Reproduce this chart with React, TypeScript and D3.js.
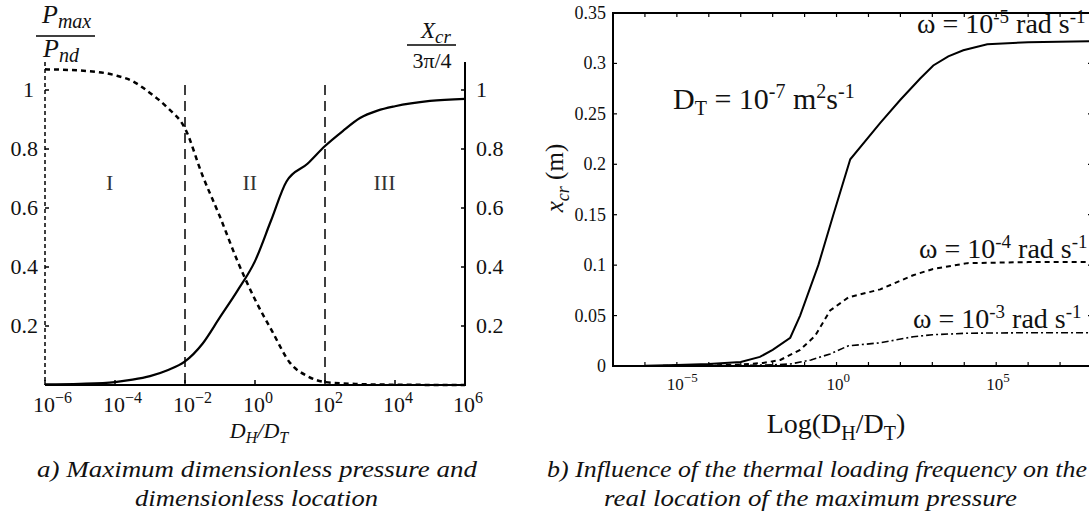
import React from "react";
import * as d3 from "d3";

// ---------- Panel a data ----------
const aXTicks = [-6, -4, -2, 0, 2, 4, 6];
const aYTicks = [0.2, 0.4, 0.6, 0.8, 1];
const aRegionBounds = [-2, 2];
const aRegionLabels = ["I", "II", "III"];
const aRegionLabelPos = [-4.15, -0.15, 3.7];
const pressureLog = [-6, -5, -4, -3.5, -3, -2.5, -2, -1.5, -1, -0.5, 0, 0.5, 1, 1.5, 2, 3, 4, 6];
const pressureVal = [1.07, 1.066, 1.05, 1.03, 0.99, 0.94, 0.87, 0.71, 0.57, 0.42, 0.29, 0.18, 0.075, 0.03, 0.01, 0.003, 0.001, 0];
const locationLog = [-6, -5, -4, -3.5, -3, -2.5, -2, -1.5, -1, -0.5, 0, 0.45, 0.9, 1.5, 2, 2.5, 3, 3.5, 4, 5, 6];
const locationVal = [0.002, 0.004, 0.01, 0.018, 0.03, 0.05, 0.08, 0.14, 0.23, 0.32, 0.42, 0.555, 0.69, 0.75, 0.81, 0.86, 0.905, 0.93, 0.945, 0.963, 0.97];

// ---------- Panel b data ----------
const bXTickDecades = [-7, -6, -5, -4, -3, -2, -1, 0, 1, 2, 3, 4, 5, 6, 7, 8];
const bXLabelDecades = [-5, 0, 5];
const bYTicks = [0, 0.05, 0.1, 0.15, 0.2, 0.25, 0.3, 0.35];
const bYTickLabels = ["0", "0.05", "0.1", "0.15", "0.2", "0.25", "0.3", "0.35"];
const w5Log = [-6, -5, -4, -3, -2.4, -2, -1.45, -1.14, -0.57, -0.1, 0.43, 1.37, 2.0, 2.62, 3.03, 3.5, 3.97, 4.72, 6, 8];
const w5Val = [0.0003, 0.001, 0.002, 0.004, 0.009, 0.016, 0.028, 0.05, 0.1, 0.15, 0.205, 0.241, 0.264, 0.285, 0.298, 0.307, 0.313, 0.319, 0.321, 0.322];
const w4Log = [-6, -4, -3, -2.3, -1.76, -1.14, -0.67, -0.2, 0.37, 1.37, 2.4, 3, 4.1, 6, 8];
const w4Val = [0, 0.0005, 0.0015, 0.003, 0.006, 0.016, 0.03, 0.055, 0.068, 0.076, 0.09, 0.096, 0.102, 0.103, 0.103];
const w3Log = [-6, -3, -2, -1.45, -0.8, -0.2, 0.37, 1.37, 2.4, 3, 4.1, 6, 8];
const w3Val = [0, 0.0005, 0.0012, 0.002, 0.006, 0.012, 0.02, 0.023, 0.029, 0.031, 0.0325, 0.033, 0.033];
const omegaExps = ["-5", "-4", "-3"];

const SERIF = "'Liberation Serif', 'Times New Roman', serif";

export default function App() {
  // panel a scales
  const ax = d3.scaleLog().domain([1e-6, 1e6]).range([45, 465]);
  const ay = d3.scaleLinear().domain([0, 1]).range([385, 90]);
  const aLine = d3
    .line<[number, number]>()
    .x((d) => ax(Math.pow(10, d[0])))
    .y((d) => ay(d[1]))
    .curve(d3.curveMonotoneX);
  const pData = pressureLog.map((l, i) => [l, pressureVal[i]] as [number, number]);
  const lData = locationLog.map((l, i) => [l, locationVal[i]] as [number, number]);

  // panel b scales
  const bx = d3.scaleLog().domain([1e-7, 1e8]).range([613, 1092]);
  const by = d3.scaleLinear().domain([0, 0.35]).range([366, 13]);
  const bLine = d3
    .line<[number, number]>()
    .x((d) => bx(Math.pow(10, d[0])))
    .y((d) => by(d[1]))
    .curve(d3.curveLinear);
  const s5 = w5Log.map((l, i) => [l, w5Val[i]] as [number, number]);
  const s4 = w4Log.map((l, i) => [l, w4Val[i]] as [number, number]);
  const s3 = w3Log.map((l, i) => [l, w3Val[i]] as [number, number]);

  const bLeft = bx.range()[0];
  const bRight = bx.range()[1];
  const bTop = by.range()[1];
  const bBottom = by.range()[0];

  const omegaY = [33, 258, 328];
  const omegaX = [917, 919, 913];

  return (
    <svg width={1089} height={516} style={{ position: "absolute", left: 0, top: 0, background: "#fff", fontFamily: SERIF }}>
      {/* ================= Panel a ================= */}
      <line x1={ax(1e-6)} x2={ax(1e-6)} y1={62} y2={385} stroke="#000" strokeWidth={1.5} strokeDasharray="4,3" />
      <line x1={ax(1e6)} x2={ax(1e6)} y1={62} y2={386} stroke="#000" strokeWidth={2} />
      <line x1={ax(1e-6)} x2={ax(1e6)} y1={385} y2={385} stroke="#000" strokeWidth={2} />
      {aXTicks.map((t) => (
        <g key={"axt" + t}>
          <line x1={ax(Math.pow(10, t))} x2={ax(Math.pow(10, t))} y1={385} y2={380} stroke="#000" strokeWidth={1.5} />
          <text x={ax(Math.pow(10, t)) - 12} y={412} fontSize={22} textAnchor="start" fill="#111">
            10
            <tspan dy={-9} fontSize={16}>{t < 0 ? "\u2212" + Math.abs(t) : String(t)}</tspan>
          </text>
        </g>
      ))}
      {aYTicks.map((t) => (
        <g key={"ayt" + t}>
          <line x1={ax(1e-6)} x2={ax(1e-6) + 4} y1={ay(t)} y2={ay(t)} stroke="#000" strokeWidth={1.5} />
          <text x={t === 1 ? 34 : 38} y={ay(t) + 7} fontSize={22} textAnchor="end" fill="#111">{String(t)}</text>
          <line x1={ax(1e6)} x2={ax(1e6) - 4} y1={ay(t)} y2={ay(t)} stroke="#000" strokeWidth={1.5} />
          <text x={476} y={ay(t) + 7} fontSize={22} textAnchor="start" fill="#111">{String(t)}</text>
        </g>
      ))}
      {aRegionBounds.map((b) => (
        <line key={"rb" + b} x1={ax(Math.pow(10, b))} x2={ax(Math.pow(10, b))} y1={85} y2={385} stroke="#000" strokeWidth={1.5} strokeDasharray="10,6" />
      ))}
      {aRegionLabels.map((lab, i) => (
        <text key={lab} x={ax(Math.pow(10, aRegionLabelPos[i]))} y={190} fontSize={22} textAnchor="middle" fill="#333">{lab}</text>
      ))}
      <path d={aLine(pData) || ""} fill="none" stroke="#000" strokeWidth={2.5} strokeDasharray="5,4" />
      <path d={aLine(lData) || ""} fill="none" stroke="#000" strokeWidth={2.2} />
      {/* axis titles */}
      <text x={42} y={23} fontSize={26} fontStyle="italic" fill="#111">
        P<tspan dy={5} fontSize={20}>max</tspan>
      </text>
      <line x1={36} x2={95} y1={36} y2={36} stroke="#000" strokeWidth={1.6} />
      <text x={43} y={57} fontSize={26} fontStyle="italic" fill="#111">
        P<tspan dy={5} fontSize={20}>nd</tspan>
      </text>
      <text x={421} y={38} fontSize={23} fontStyle="italic" fill="#111">
        X<tspan dy={5} fontSize={19}>cr</tspan>
      </text>
      <line x1={407} x2={456} y1={45} y2={45} stroke="#000" strokeWidth={1.4} />
      <text x={432} y={68} fontSize={22} textAnchor="middle" fill="#111">3π/4</text>
      <text x={259} y={438} fontSize={22} fontStyle="italic" textAnchor="middle" fill="#111">
        D<tspan dy={5} fontSize={16}>H</tspan>
        <tspan dy={-5}>/D</tspan>
        <tspan dy={5} fontSize={16}>T</tspan>
      </text>
      <text x={37} y={477} fontSize={24} fontStyle="italic" textLength={440} lengthAdjust="spacingAndGlyphs" fill="#111">a) Maximum dimensionless pressure and</text>
      <text x={135} y={506} fontSize={24} fontStyle="italic" textLength={243} lengthAdjust="spacingAndGlyphs" fill="#111">dimensionless location</text>

      {/* ================= Panel b ================= */}
      <rect x={bLeft} y={bTop} width={bRight - bLeft} height={bBottom - bTop} fill="none" stroke="#000" strokeWidth={2} />
      {bXTickDecades.map((t) => (
        <g key={"bxt" + t}>
          <line x1={bx(Math.pow(10, t))} x2={bx(Math.pow(10, t))} y1={bBottom} y2={bBottom - 4} stroke="#000" strokeWidth={1.2} />
          <line x1={bx(Math.pow(10, t))} x2={bx(Math.pow(10, t))} y1={bTop} y2={bTop + 4} stroke="#000" strokeWidth={1.2} />
        </g>
      ))}
      {bXLabelDecades.map((t) => (
        <text key={"bxl" + t} x={bx(Math.pow(10, t)) - 10} y={390} fontSize={17} textAnchor="start" fill="#111">
          10
          <tspan dy={-8} fontSize={13}>{t < 0 ? "\u2212" + Math.abs(t) : String(t)}</tspan>
        </text>
      ))}
      {bYTicks.map((t, i) => (
        <g key={"byt" + t}>
          <line x1={bLeft} x2={bLeft + 4} y1={by(t)} y2={by(t)} stroke="#000" strokeWidth={1.2} />
          <line x1={bRight} x2={bRight - 4} y1={by(t)} y2={by(t)} stroke="#000" strokeWidth={1.2} />
          <text x={606} y={by(t) + 6} fontSize={18} textAnchor="end" fill="#111">{bYTickLabels[i]}</text>
        </g>
      ))}
      <path d={bLine(s5) || ""} fill="none" stroke="#000" strokeWidth={2} />
      <path d={bLine(s4) || ""} fill="none" stroke="#000" strokeWidth={2} strokeDasharray="5,4" />
      <path d={bLine(s3) || ""} fill="none" stroke="#000" strokeWidth={1.6} strokeDasharray="7,3,2,3" />
      {omegaExps.map((e, i) => (
        <text key={"om" + e} x={omegaX[i]} y={omegaY[i]} fontSize={28} fill="#111">
          ω = 10<tspan dy={-10} fontSize={19}>{e}</tspan>
          <tspan dy={10}> rad s</tspan>
          <tspan dy={-10} fontSize={19}>-1</tspan>
        </text>
      ))}
      <text x={673} y={109} fontSize={30} fill="#111">
        D<tspan dy={6} fontSize={20}>T</tspan>
        <tspan dy={-6}> = 10</tspan>
        <tspan dy={-11} fontSize={20}>-7</tspan>
        <tspan dy={11}> m</tspan>
        <tspan dy={-11} fontSize={20}>2</tspan>
        <tspan dy={11}>s</tspan>
        <tspan dy={-11} fontSize={20}>-1</tspan>
      </text>
      <text transform="translate(563,178) rotate(-90)" fontSize={25} textAnchor="middle" fill="#111">
        <tspan fontStyle="italic">x</tspan>
        <tspan dy={6} fontSize={18} fontStyle="italic">cr</tspan>
        <tspan dy={-6}> (m)</tspan>
      </text>
      <text x={836} y={433} fontSize={28} textAnchor="middle" fill="#111">
        Log(D<tspan dy={7} fontSize={20}>H</tspan>
        <tspan dy={-7}>/D</tspan>
        <tspan dy={7} fontSize={20}>T</tspan>
        <tspan dy={-7}>)</tspan>
      </text>
      <text x={547} y={477} fontSize={24} fontStyle="italic" textLength={540} lengthAdjust="spacingAndGlyphs" fill="#111">b) Influence of the thermal loading frequency on the</text>
      <text x={604} y={506} fontSize={24} fontStyle="italic" textLength={413} lengthAdjust="spacingAndGlyphs" fill="#111">real location of the maximum pressure</text>
    </svg>
  );
}
